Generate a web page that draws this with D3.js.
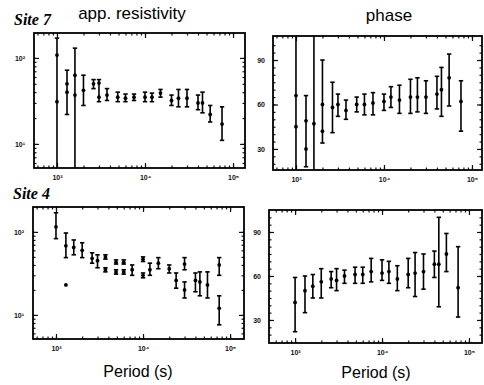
<!DOCTYPE html>
<html><head><meta charset="utf-8">
<script src="https://cdn.jsdelivr.net/npm/d3@7"></script>
<style>
html,body{margin:0;padding:0;background:#fff;}
svg{display:block;}
</style></head>
<body>
<svg id="chart" width="484" height="385"></svg>
<script>
// ---------- DATA ----------
const periods = [1000,1300,1600,2000,2600,3000,3700,4900,6000,7500,10000,12000,15000,20000,24000,30000,40000,45000,55000,75000];

// Site 7 apparent resistivity (ohm m)
const s7RhoVal  = [108,50,63,42,50,51,37,35,34,35,35,35,39,32,34,34,30,30,22,17];
const s7RhoLo   = [0.5,22,0.5,28,44,31,32,31,31,32,31,31,35,28,27,27,25,23,18,11];
const s7RhoHi   = [170,72,130,63,56,56,44,40,38,38,40,39,43,37,43,43,37,40,28,27];
const s7RhoVal2 = [31,40,37,null,null,35,null,null,null,null,null,null,null,null,null,null,null,null,null,null];

// Site 7 phase (deg)
const s7PhVal  = [66,49,47,60,58,60,56,60,60,61,62,65,63,65,65,65,67,70,78,62];
const s7PhLo   = [0,18,0,34,41,52,50,55,53,53,56,58,54,54,55,54,57,52,59,42];
const s7PhHi   = [120,66,120,90,75,67,63,65,67,68,67,72,73,77,78,76,79,85,94,76];
const s7PhVal2 = [45,30,null,42,null,null,null,null,null,null,null,null,null,null,null,null,null,null,null,null];

// Site 4 apparent resistivity (ohm m)
const s4RhoVal  = [115,68,65,60,48,45,50,43,43,35,47,35,42,36,26,41,26,25,23,40];
const s4RhoLo   = [83,49,53,49,42,37,47,41,41,30,44,30,36,32,21,35,19,17,16,30];
const s4RhoHi   = [170,97,80,74,56,53,53,46,46,40,50,42,49,40,32,49,32,33,33,49];
const s4RhoVal2 = [null,23,null,null,null,null,35,33,33,null,30,null,null,null,null,20,null,null,null,12];
const s4RhoLo2  = [null,23,null,null,null,null,33,31,31,null,28,null,null,null,null,16,null,null,null,7.6];
const s4RhoHi2  = [null,23,null,null,null,null,37,35,35,null,32,null,null,null,null,25,null,null,null,17];

// Site 4 phase (deg)
const s4PhVal = [42,50,53,56,58,57,60,61,61,63,62,63,58,61,62,63,68,68,75,52];
const s4PhLo  = [22,35,45,45,52,50,55,55,55,56,57,55,50,52,46,51,59,39,63,32];
const s4PhHi  = [59,60,61,65,63,65,64,66,66,72,71,70,67,72,76,75,77,100,89,80];

const xTicks = [1e3,1e4,1e5];
const rhoTicks = [10,100];
const phTicks = [30,60,90];
const titles = ["app. resistivity","phase"];
const siteLabels = ["Site 7","Site 4"];
const xLabel = "Period (s)";

// ---------- DRAW ----------
const svg = d3.select("#chart");
const sup = {"0":"⁰","1":"¹","2":"²","3":"³","4":"⁴","5":"⁵","6":"⁶","7":"⁷","8":"⁸","9":"⁹"};
const powFmt = v => "10" + String(Math.round(Math.log10(v))).split("").map(c=>sup[c]).join("");

function minorLog(lo, hi){
  const out=[];
  for(let e=Math.floor(Math.log10(lo)); e<=Math.ceil(Math.log10(hi)); e++){
    for(let m=1;m<10;m++){const v=m*Math.pow(10,e); if(v>=lo&&v<=hi) out.push(v);}
  }
  return out;
}

function panel(cfg, id){
  const g = svg.append("g");
  const x = d3.scaleLog().domain(cfg.xd).range([cfg.x0,cfg.x1]);
  const y = (cfg.log ? d3.scaleLog() : d3.scaleLinear()).domain(cfg.yd).range([cfg.y1,cfg.y0]);

  const clip = "clip"+id;
  svg.append("clipPath").attr("id",clip).append("rect")
    .attr("x",cfg.x0).attr("y",cfg.y0).attr("width",cfg.x1-cfg.x0).attr("height",cfg.y1-cfg.y0);

  // axes (inward ticks on all four sides)
  const xMinor = minorLog(cfg.xd[0], cfg.xd[1]);
  const yMinor = cfg.log ? minorLog(cfg.yd[0], cfg.yd[1]) : d3.range(20,105,5);
  const addAxis = (axis, tr, cls) => {
    const a = g.append("g").attr("transform",tr).call(axis);
    a.select(".domain").remove();
    a.selectAll("line").attr("stroke","#111").attr("stroke-width",1.2);
    a.selectAll("text").attr("class",cls);
    return a;
  };
  addAxis(d3.axisBottom(x).tickValues(xMinor).tickSize(-2.5).tickFormat(""), `translate(0,${cfg.y1})`);
  addAxis(d3.axisTop(x).tickValues(xMinor).tickSize(-2.5).tickFormat(""), `translate(0,${cfg.y0})`);
  addAxis(d3.axisLeft(y).tickValues(yMinor).tickSize(-2.5).tickFormat(""), `translate(${cfg.x0},0)`);
  addAxis(d3.axisRight(y).tickValues(yMinor).tickSize(-2.5).tickFormat(""), `translate(${cfg.x1},0)`);
  addAxis(d3.axisBottom(x).tickValues(xTicks).tickSize(-5).tickPadding(7).tickFormat(powFmt), `translate(0,${cfg.y1})`, "tl");
  addAxis(d3.axisTop(x).tickValues(xTicks).tickSize(-5).tickFormat(""), `translate(0,${cfg.y0})`);
  addAxis(d3.axisLeft(y).tickValues(cfg.yt).tickSize(-5).tickPadding(cfg.log?9:8).tickFormat(cfg.log?powFmt:d3.format("d")), `translate(${cfg.x0},0)`, "tl");
  addAxis(d3.axisRight(y).tickValues(cfg.yt).tickSize(-5).tickFormat(""), `translate(${cfg.x1},0)`);
  g.selectAll("text.tl").attr("font-family","Liberation Sans, Arial, sans-serif")
    .attr("font-size",7).attr("font-weight","bold").attr("fill","#111");

  // frame
  g.append("rect").attr("x",cfg.x0).attr("y",cfg.y0).attr("width",cfg.x1-cfg.x0).attr("height",cfg.y1-cfg.y0)
    .attr("fill","none").attr("stroke","#000").attr("stroke-width",1.8);

  // error bars
  const d = periods.map((p,i)=>({p, v:cfg.val[i], lo:cfg.lo[i], hi:cfg.hi[i],
     v2: cfg.val2 ? cfg.val2[i] : null, lo2: cfg.lo2 ? cfg.lo2[i] : null, hi2: cfg.hi2 ? cfg.hi2[i] : null}));
  const pg = g.append("g").attr("clip-path",`url(#${clip})`);
  const bar = (sel, vk, lk, hk) => {
    const dd = d.filter(e=>e[vk]!=null);
    sel.selectAll(null).data(dd.filter(e=>e[lk]!==e[hk])).join("line")
      .attr("x1",e=>x(e.p)).attr("x2",e=>x(e.p)).attr("y1",e=>y(e[lk])).attr("y2",e=>y(e[hk]))
      .attr("stroke","#000").attr("stroke-width",1.6);
    [lk,hk].forEach(k=>{
      sel.selectAll(null).data(dd.filter(e=>e[lk]!==e[hk])).join("line")
        .attr("x1",e=>x(e.p)-2.2).attr("x2",e=>x(e.p)+2.2).attr("y1",e=>y(e[k])).attr("y2",e=>y(e[k]))
        .attr("stroke","#000").attr("stroke-width",1.6);
    });
    sel.selectAll(null).data(dd).join("circle")
      .attr("cx",e=>x(e.p)).attr("cy",e=>y(e[vk])).attr("r",1.9).attr("fill","#000");
  };
  bar(pg,"v","lo","hi");
  // secondary estimates
  const d2 = d.filter(e=>e.v2!=null);
  if(cfg.lo2){ bar(pg,"v2","lo2","hi2"); }
  else {
    pg.selectAll(null).data(d2).join("circle")
      .attr("cx",e=>x(e.p)).attr("cy",e=>y(e.v2)).attr("r",1.9).attr("fill","#000");
  }
}

panel({x0:34,x1:245,y0:33,y1:168,xd:[Math.pow(10,2.739),Math.pow(10,5.136)],yd:[Math.pow(10,0.72),Math.pow(10,2.29)],log:true,yt:rhoTicks,
       val:s7RhoVal,lo:s7RhoLo,hi:s7RhoHi,val2:s7RhoVal2},"a");
panel({x0:273,x1:482,y0:36,y1:170,xd:[Math.pow(10,2.739),Math.pow(10,5.114)],yd:[15.8,106.2],log:false,yt:phTicks,
       val:s7PhVal,lo:s7PhLo,hi:s7PhHi,val2:s7PhVal2},"b");
panel({x0:33,x1:244,y0:207,y1:339,xd:[Math.pow(10,2.736),Math.pow(10,5.16)],yd:[Math.pow(10,0.71),Math.pow(10,2.30)],log:true,yt:rhoTicks,
       val:s4RhoVal,lo:s4RhoLo,hi:s4RhoHi,val2:s4RhoVal2,lo2:s4RhoLo2,hi2:s4RhoHi2},"c");
panel({x0:269,x1:482,y0:210,y1:343,xd:[Math.pow(10,2.70),Math.pow(10,5.15)],yd:[14.3,105],log:false,yt:phTicks,
       val:s4PhVal,lo:s4PhLo,hi:s4PhHi},"d");

// titles and labels
const sans = "Liberation Sans, Arial, sans-serif";
svg.append("text").attr("x",132).attr("y",19).attr("text-anchor","middle").attr("font-family",sans).attr("font-size",17).text(titles[0]);
svg.append("text").attr("x",389).attr("y",21).attr("text-anchor","middle").attr("font-family",sans).attr("font-size",17).text(titles[1]);
svg.append("text").attr("x",14).attr("y",25).attr("font-family","Liberation Serif, Times New Roman, serif").attr("font-size",16)
   .attr("font-style","italic").attr("font-weight","bold").text(siteLabels[0]);
svg.append("text").attr("x",13).attr("y",199).attr("font-family","Liberation Serif, Times New Roman, serif").attr("font-size",16)
   .attr("font-style","italic").attr("font-weight","bold").text(siteLabels[1]);
svg.append("text").attr("x",138).attr("y",377).attr("text-anchor","middle").attr("font-family",sans).attr("font-size",16).text(xLabel);
svg.append("text").attr("x",376).attr("y",378).attr("text-anchor","middle").attr("font-family",sans).attr("font-size",16).text(xLabel);
</script>
</body></html>
